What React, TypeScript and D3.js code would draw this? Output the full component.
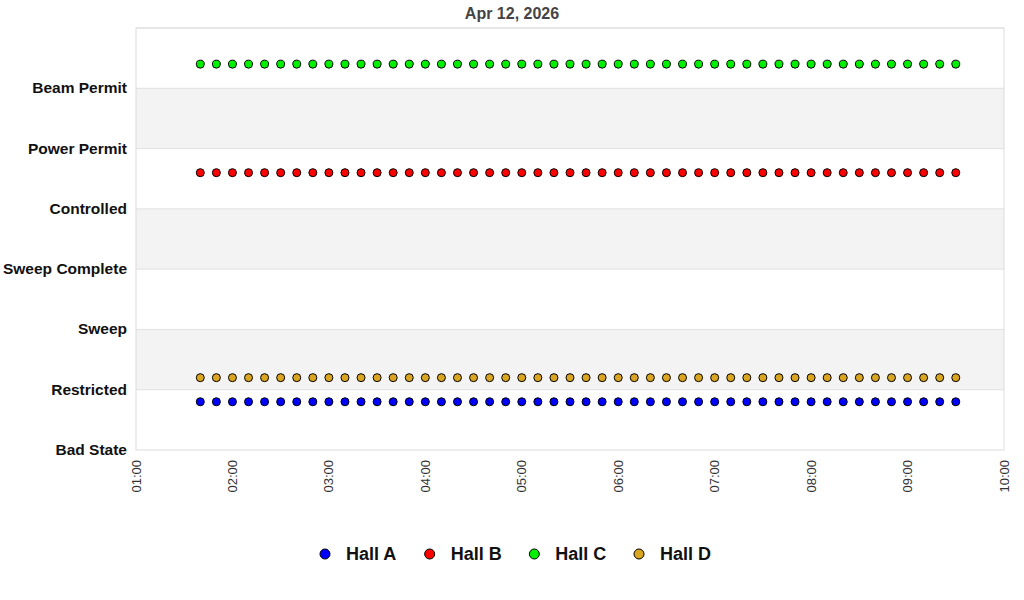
import * as d3 from 'd3';
import React, { useEffect, useRef } from 'react';

// state levels, bottom to top
const states = ['Bad State', 'Restricted', 'Sweep', 'Sweep Complete', 'Controlled', 'Power Permit', 'Beam Permit'];
const timeTicks = ['01:00', '02:00', '03:00', '04:00', '05:00', '06:00', '07:00', '08:00', '09:00', '10:00'];
const sampleTimes = [
    '01:40', '01:50', '02:00', '02:10', '02:20', '02:30', '02:40', '02:50',
    '03:00', '03:10', '03:20', '03:30', '03:40', '03:50', '04:00', '04:10',
    '04:20', '04:30', '04:40', '04:50', '05:00', '05:10', '05:20', '05:30',
    '05:40', '05:50', '06:00', '06:10', '06:20', '06:30', '06:40', '06:50',
    '07:00', '07:10', '07:20', '07:30', '07:40', '07:50', '08:00', '08:10',
    '08:20', '08:30', '08:40', '08:50', '09:00', '09:10', '09:20', '09:30',
];
const halls = ['Hall A', 'Hall B', 'Hall C', 'Hall D'];
const hallColors = ['#0000ff', '#ff0000', '#00ee00', '#daa520'];
// plotted level per sample (state index with a small per-hall offset)
const hallA = [0.8, 0.8, 0.8, 0.8, 0.8, 0.8, 0.8, 0.8, 0.8, 0.8, 0.8, 0.8, 0.8, 0.8, 0.8, 0.8, 0.8, 0.8, 0.8, 0.8, 0.8, 0.8, 0.8, 0.8, 0.8, 0.8, 0.8, 0.8, 0.8, 0.8, 0.8, 0.8, 0.8, 0.8, 0.8, 0.8, 0.8, 0.8, 0.8, 0.8, 0.8, 0.8, 0.8, 0.8, 0.8, 0.8, 0.8, 0.8];
const hallB = [4.6, 4.6, 4.6, 4.6, 4.6, 4.6, 4.6, 4.6, 4.6, 4.6, 4.6, 4.6, 4.6, 4.6, 4.6, 4.6, 4.6, 4.6, 4.6, 4.6, 4.6, 4.6, 4.6, 4.6, 4.6, 4.6, 4.6, 4.6, 4.6, 4.6, 4.6, 4.6, 4.6, 4.6, 4.6, 4.6, 4.6, 4.6, 4.6, 4.6, 4.6, 4.6, 4.6, 4.6, 4.6, 4.6, 4.6, 4.6];
const hallC = [6.4, 6.4, 6.4, 6.4, 6.4, 6.4, 6.4, 6.4, 6.4, 6.4, 6.4, 6.4, 6.4, 6.4, 6.4, 6.4, 6.4, 6.4, 6.4, 6.4, 6.4, 6.4, 6.4, 6.4, 6.4, 6.4, 6.4, 6.4, 6.4, 6.4, 6.4, 6.4, 6.4, 6.4, 6.4, 6.4, 6.4, 6.4, 6.4, 6.4, 6.4, 6.4, 6.4, 6.4, 6.4, 6.4, 6.4, 6.4];
const hallD = [1.2, 1.2, 1.2, 1.2, 1.2, 1.2, 1.2, 1.2, 1.2, 1.2, 1.2, 1.2, 1.2, 1.2, 1.2, 1.2, 1.2, 1.2, 1.2, 1.2, 1.2, 1.2, 1.2, 1.2, 1.2, 1.2, 1.2, 1.2, 1.2, 1.2, 1.2, 1.2, 1.2, 1.2, 1.2, 1.2, 1.2, 1.2, 1.2, 1.2, 1.2, 1.2, 1.2, 1.2, 1.2, 1.2, 1.2, 1.2];
const title = 'Apr 12, 2026';

export default () => {
    const ref = useRef<any>();

    useEffect(() => {
        document.body.style.margin = '0';
        const parseTime = d3.timeParse('%Y-%m-%d %H:%M');
        const day = '2026-04-12 ';

        const dims = { width: 1024, height: 600, margin: { top: 28, right: 20, bottom: 150, left: 136 } };
        const bw = dims.width - dims.margin.left - dims.margin.right;
        const bh = dims.height - dims.margin.top - dims.margin.bottom;

        const svg = d3.select<any, any>(ref.current)
            .attr('width', dims.width)
            .attr('height', dims.height)
            .style('font-family', '"Liberation Sans", Arial, sans-serif');
        svg.selectAll('*').remove();

        // title is centred on the page, not the plot
        svg.append('text')
            .attr('x', dims.width / 2)
            .attr('y', 19)
            .attr('text-anchor', 'middle')
            .attr('font-size', 16)
            .attr('font-weight', 'bold')
            .attr('fill', '#444')
            .text(title);

        const stage = svg.append('g')
            .attr('transform', `translate(${dims.margin.left},${dims.margin.top})`);

        const x = d3.scaleTime()
            .domain([parseTime(day + timeTicks[0])!, parseTime(day + timeTicks[timeTicks.length - 1])!])
            .range([0, bw]);
        const y = d3.scaleLinear().domain([0, states.length]).range([bh, 0]);

        // alternating bands
        stage.append('g').selectAll('rect')
            .data(d3.range(1, states.length, 2))
            .join('rect')
            .attr('x', 0)
            .attr('width', bw)
            .attr('y', d => y(d + 1))
            .attr('height', d => y(d) - y(d + 1))
            .attr('fill', '#f3f3f3');

        // grid lines
        stage.append('g').selectAll('line')
            .data(d3.range(1, states.length + 1))
            .join('line')
            .attr('x1', 0).attr('x2', bw)
            .attr('y1', d => y(d)).attr('y2', d => y(d))
            .attr('stroke', '#e0e0e0');

        stage.append('rect')
            .attr('width', bw).attr('height', bh)
            .attr('fill', 'none')
            .attr('stroke', '#dcdcdc');

        // y labels
        stage.append('g').selectAll('text')
            .data(states)
            .join('text')
            .attr('x', -9)
            .attr('y', (d, i) => y(i) + 5)
            .attr('text-anchor', 'end')
            .attr('font-size', 15.5)
            .attr('font-weight', 'bold')
            .attr('fill', '#111')
            .text(d => d);

        // x labels, rotated
        stage.append('g').selectAll('text')
            .data(timeTicks)
            .join('text')
            .attr('transform', d => `translate(${x(parseTime(day + d)!)},${bh + 10}) rotate(-90)`)
            .attr('text-anchor', 'end')
            .attr('dy', '0.35em')
            .attr('font-size', 13)
            .attr('fill', '#333')
            .text(d => d);

        const series = [hallA, hallB, hallC, hallD];
        series.forEach((vals, si) => {
            stage.append('g').selectAll('circle')
                .data(vals)
                .join('circle')
                .attr('cx', (d, i) => x(parseTime(day + sampleTimes[i])!))
                .attr('cy', d => y(d))
                .attr('r', 4)
                .attr('fill', hallColors[si])
                .attr('stroke', '#000')
                .attr('stroke-width', 1);
        });

        // legend
        const legendX = d3.scalePoint().domain(halls).range([325, 639]);
        const legend = svg.append('g');
        const item = legend.selectAll('g')
            .data(halls)
            .join('g')
            .attr('transform', d => `translate(${legendX(d)},554)`);
        item.append('circle')
            .attr('r', 5)
            .attr('fill', (d, i) => hallColors[i])
            .attr('stroke', '#000');
        item.append('text')
            .attr('x', 21)
            .attr('y', 6)
            .attr('font-size', 18)
            .attr('font-weight', 'bold')
            .attr('fill', '#111')
            .text(d => d);
    }, []);

    return (
        <svg ref={ref} style={{ display: 'block' }}></svg>
    );
};
